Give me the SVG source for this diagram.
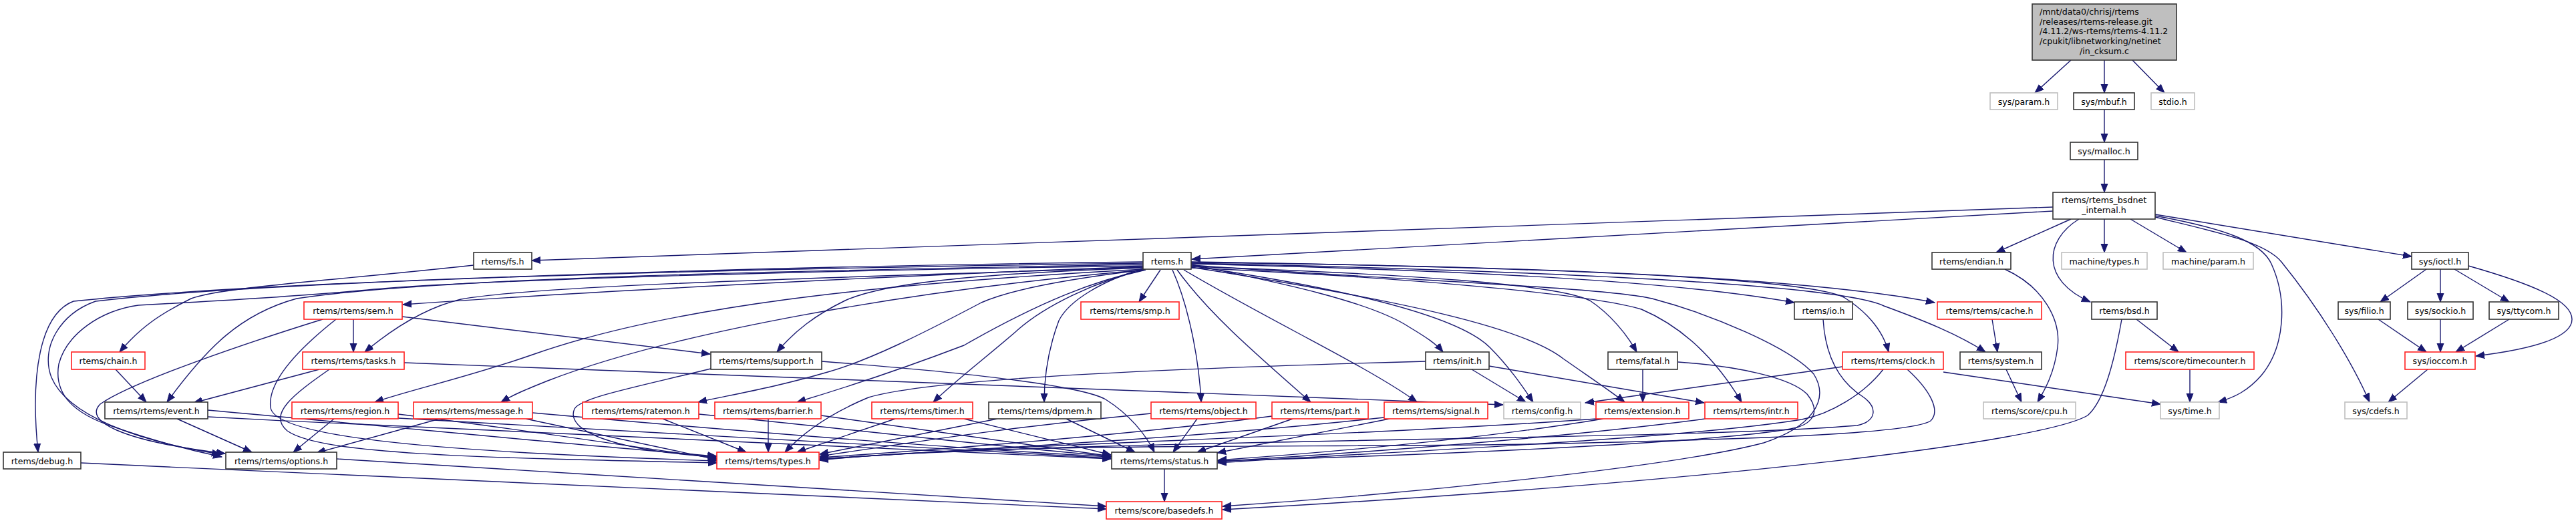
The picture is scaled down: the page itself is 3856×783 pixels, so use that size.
<svg xmlns="http://www.w3.org/2000/svg" width="3856" height="783" viewBox="0 0 3856 783">
<style>
rect{fill:#fff;stroke-width:1.6}
.k rect{stroke:#333}
.r rect{stroke:#ff2020}
.g rect{stroke:#bfbfbf}
.root rect{fill:#bfbfbf;stroke:#333}
text{font-family:"DejaVu Sans","Liberation Sans",sans-serif;font-size:12.6px;fill:#000;text-anchor:middle}
.lt{text-anchor:start}
#edges path{fill:none;stroke:#191970;stroke-width:1.4;marker-end:url(#a)}
</style>
<defs>
<marker id="a" markerUnits="userSpaceOnUse" markerWidth="14" markerHeight="12" refX="13" refY="5" orient="auto" viewBox="0 0 14 10">
<path d="M0,0 L13,5 L0,10 z" fill="#191970" stroke="#191970" stroke-width="1"/>
</marker>
</defs>
<rect x="0" y="0" width="3856" height="783" style="fill:#fff;stroke:none"/>
<g id="edges">
<path d="M3100,90 L3046,139"/>
<path d="M3150,90 L3150,139"/>
<path d="M3192,90 L3240,139"/>
<path d="M3150,164 L3150,213"/>
<path d="M3150,239 L3150,288"/>
<path d="M3073,310 L796,390"/>
<path d="M3073,316 L1784,388"/>
<path d="M3100,328 L2988,378"/>
<path d="M3112,328 C3060,360 3055,420 3129,452"/>
<path d="M3150,328 L3150,378"/>
<path d="M3189,328 L3273,378"/>
<path d="M3226,323 C3330,342 3385,362 3400,395 C3425,450 3420,520 3385,562 C3365,585 3345,595 3320,602"/>
<path d="M3226,325 C3320,348 3390,362 3415,392 C3470,460 3520,540 3547,602"/>
<path d="M3226,321 L3610,384"/>
<path d="M3632,403 L3563,452"/>
<path d="M3653,403 L3653,452"/>
<path d="M3674,403 L3756,452"/>
<path d="M3695,398 C3790,425 3850,450 3850,478 C3850,508 3780,524 3706,533"/>
<path d="M3560,478 L3632,527"/>
<path d="M3653,478 L3653,527"/>
<path d="M3756,478 L3676,527"/>
<path d="M3634,553 L3575,602"/>
<path d="M3198,478 L3261,527"/>
<path d="M3278,553 L3278,602"/>
<path d="M2909,557 L3234,605"/>
<path d="M3176,478 C3165,540 3150,600 3125,622 C3060,660 2600,720 1830,763"/>
<path d="M3001,403 C3060,430 3085,480 3080,520 C3075,560 3060,585 3050,602"/>
<path d="M2982,478 L2990,527"/>
<path d="M3003,553 L3026,602"/>
<path d="M1711,392 C1200,398 400,420 110,451 C60,470 45,560 57,677"/>
<path d="M1711,394 C1100,402 400,420 143,451 C90,470 60,520 77,565 C100,620 200,660 330,680"/>
<path d="M1711,398 C1200,405 700,420 560,433 C450,444 300,452 207,457 C150,465 100,500 88,545 C80,590 110,620 173,640 C230,660 280,673 332,684"/>
<path d="M1711,396 C1200,405 650,415 444,447 C360,470 310,520 250,602"/>
<path d="M1711,399 C1400,410 900,435 603,456"/>
<path d="M1711,400 C1300,415 820,425 690,448 C640,460 590,490 546,527"/>
<path d="M1711,401 C1450,410 1320,425 1265,450 C1220,472 1190,495 1163,527"/>
<path d="M1713,403 C1300,425 1000,460 800,530 C700,565 620,582 561,602"/>
<path d="M1714,404 C1350,435 1000,500 820,570 C790,582 770,590 750,602"/>
<path d="M1712,404 C1620,415 1520,430 1469,453 C1380,500 1300,540 1239,557 C1160,580 1100,590 1045,602"/>
<path d="M1713,404 C1640,420 1560,450 1443,517 C1330,560 1250,585 1193,602"/>
<path d="M1715,404 C1640,420 1560,460 1520,497 C1470,540 1430,570 1397,602"/>
<path d="M1712,402 C1650,420 1600,450 1585,480 C1570,520 1563,560 1563,602"/>
<path d="M1737,404 L1705,452"/>
<path d="M1755,404 C1780,460 1795,540 1798,602"/>
<path d="M1762,404 C1810,470 1880,530 1962,602"/>
<path d="M1772,404 C1900,480 2050,550 2121,602"/>
<path d="M1783,396 C1900,420 2050,450 2110,490 C2135,505 2150,515 2160,527"/>
<path d="M1783,398 C2000,430 2180,470 2230,520 C2260,550 2280,580 2295,602"/>
<path d="M1783,400 C2100,450 2280,490 2340,537 C2380,565 2410,585 2432,602"/>
<path d="M1783,401 C2100,415 2380,440 2457,463 C2520,490 2570,540 2607,602"/>
<path d="M1783,399 C2100,410 2330,425 2380,450 C2410,470 2435,500 2450,527"/>
<path d="M1783,395 C2200,405 2500,420 2686,453"/>
<path d="M1783,393 C2300,398 2700,415 2896,453"/>
<path d="M1783,392 C2300,400 2700,415 2760,445 C2800,470 2820,500 2827,527"/>
<path d="M1783,394 C2300,405 2750,425 2820,458 C2880,480 2930,500 2972,527"/>
<path d="M1783,397 C2100,420 2400,430 2473,447 C2560,470 2680,520 2715,560 C2740,600 2710,640 2640,663 C2500,700 2100,740 1830,758"/>
<path d="M709,397 C500,420 330,430 286,447 C240,470 210,490 179,527"/>
<path d="M173,553 L219,602"/>
<path d="M529,478 L529,527"/>
<path d="M602,474 L1063,530"/>
<path d="M483,478 C380,510 200,570 150,605 C125,630 180,660 337,679"/>
<path d="M503,478 C450,520 400,570 405,610 C410,650 600,675 1073,690"/>
<path d="M478,553 L290,603"/>
<path d="M605,543 L2250,606"/>
<path d="M493,553 C440,590 400,620 430,645 C480,680 700,685 1073,693"/>
<path d="M1064,552 C950,580 870,595 860,612 C845,645 920,675 1072,684"/>
<path d="M1230,541 C1450,558 1620,578 1655,598 C1690,620 1715,650 1728,677"/>
<path d="M2134,541 C1800,550 1400,565 1300,595 C1240,620 1200,650 1175,677"/>
<path d="M2203,553 L2284,602"/>
<path d="M2229,548 L2551,603"/>
<path d="M2459,553 L2459,602"/>
<path d="M2512,542 C2600,548 2680,565 2705,590 C2725,615 2715,632 2690,640 C2600,660 2200,680 1823,690"/>
<path d="M2729,478 C2732,530 2750,570 2790,595 C2810,610 2810,630 2780,637 C2500,660 1700,655 1227,687"/>
<path d="M2758,549 L2373,603"/>
<path d="M2819,553 C2790,590 2740,620 2697,628 C2500,660 2000,680 1823,693"/>
<path d="M2855,553 C2890,585 2905,615 2890,630 C2860,650 2600,658 2340,664 C2000,672 1500,660 1227,689"/>
<path d="M265,627 L377,677"/>
<path d="M311,614 C600,640 900,670 1073,683"/>
<path d="M311,624 C800,650 1300,672 1663,687"/>
<path d="M500,627 L439,677"/>
<path d="M596,620 C800,645 950,670 1073,686"/>
<path d="M596,626 C1000,650 1400,672 1663,686"/>
<path d="M658,627 L474,678"/>
<path d="M787,627 L1073,688"/>
<path d="M797,618 C1100,645 1400,670 1663,684"/>
<path d="M992,627 L1117,677"/>
<path d="M1046,620 C1300,645 1500,670 1663,683"/>
<path d="M1150,627 L1150,677"/>
<path d="M1229,622 L1663,683"/>
<path d="M1340,627 L1193,677"/>
<path d="M1443,627 L1663,681"/>
<path d="M1493,627 L1227,680"/>
<path d="M1596,627 L1699,677"/>
<path d="M1723,619 C1500,640 1350,665 1227,683"/>
<path d="M1792,627 L1756,677"/>
<path d="M1904,623 C1700,650 1450,670 1227,685"/>
<path d="M1935,627 L1792,677"/>
<path d="M2072,625 C1800,655 1500,670 1227,687"/>
<path d="M2080,627 L1822,678"/>
<path d="M2390,627 C2000,655 1600,660 1227,688"/>
<path d="M2400,627 C2200,660 1950,680 1823,689"/>
<path d="M2553,627 C2300,660 2000,680 1823,691"/>
<path d="M504,687 C900,710 1400,745 1656,758"/>
<path d="M121,693 C700,720 1300,745 1656,762"/>
<path d="M1743,702 L1743,751"/>
</g>
<g id="n_root" class="root"><rect x="3042" y="6" width="216" height="84"/>
<text class="lt" x="3053" y="22">/mnt/data0/chrisj/rtems</text>
<text class="lt" x="3053" y="36.7">/releases/rtems-release.git</text>
<text class="lt" x="3053" y="51.4">/4.11.2/ws-rtems/rtems-4.11.2</text>
<text class="lt" x="3053" y="66.1">/cpukit/libnetworking/netinet</text>
<text x="3150" y="80.8">/in_cksum.c</text></g>
<g id="n_sys_param" class="g"><rect x="2979" y="139" width="101" height="25"/><text x="3029.5" y="157">sys/param.h</text></g>
<g id="n_sys_mbuf" class="k"><rect x="3104" y="139" width="91" height="25"/><text x="3149.5" y="157">sys/mbuf.h</text></g>
<g id="n_stdio" class="g"><rect x="3220" y="139" width="65" height="25"/><text x="3252.5" y="157">stdio.h</text></g>
<g id="n_sys_malloc" class="k"><rect x="3099" y="213" width="101" height="26"/><text x="3149.5" y="231">sys/malloc.h</text></g>
<g id="n_bsdnet" class="k"><rect x="3073" y="288" width="153" height="40"/><text x="3149.5" y="304">rtems/rtems_bsdnet</text><text x="3149.5" y="319">_internal.h</text></g>
<g id="n_fs" class="k"><rect x="709" y="378" width="87" height="25"/><text x="752.5" y="396">rtems/fs.h</text></g>
<g id="n_rtems" class="k"><rect x="1711" y="378" width="72" height="25"/><text x="1747" y="396">rtems.h</text></g>
<g id="n_endian" class="k"><rect x="2892" y="378" width="118" height="25"/><text x="2951" y="396">rtems/endian.h</text></g>
<g id="n_mtypes" class="g"><rect x="3086" y="378" width="128" height="25"/><text x="3150" y="396">machine/types.h</text></g>
<g id="n_mparam" class="g"><rect x="3238" y="378" width="135" height="25"/><text x="3305.5" y="396">machine/param.h</text></g>
<g id="n_ioctl" class="k"><rect x="3610" y="378" width="85" height="25"/><text x="3652.5" y="396">sys/ioctl.h</text></g>
<g id="n_sem" class="r"><rect x="455" y="452" width="147" height="26"/><text x="528.5" y="470">rtems/rtems/sem.h</text></g>
<g id="n_smp" class="r"><rect x="1618" y="452" width="147" height="26"/><text x="1691.5" y="470">rtems/rtems/smp.h</text></g>
<g id="n_io" class="k"><rect x="2686" y="452" width="87" height="26"/><text x="2729.5" y="470">rtems/io.h</text></g>
<g id="n_cache" class="r"><rect x="2900" y="452" width="156" height="26"/><text x="2978" y="470">rtems/rtems/cache.h</text></g>
<g id="n_bsd" class="k"><rect x="3131" y="452" width="98" height="26"/><text x="3180" y="470">rtems/bsd.h</text></g>
<g id="n_filio" class="k"><rect x="3500" y="452" width="78" height="26"/><text x="3539" y="470">sys/filio.h</text></g>
<g id="n_sockio" class="k"><rect x="3604" y="452" width="98" height="26"/><text x="3653" y="470">sys/sockio.h</text></g>
<g id="n_ttycom" class="k"><rect x="3726" y="452" width="104" height="26"/><text x="3778" y="470">sys/ttycom.h</text></g>
<g id="n_chain" class="r"><rect x="107" y="527" width="110" height="26"/><text x="162" y="545">rtems/chain.h</text></g>
<g id="n_tasks" class="r"><rect x="453" y="527" width="152" height="26"/><text x="529" y="545">rtems/rtems/tasks.h</text></g>
<g id="n_support" class="k"><rect x="1064" y="527" width="166" height="26"/><text x="1147" y="545">rtems/rtems/support.h</text></g>
<g id="n_init" class="k"><rect x="2134" y="527" width="95" height="26"/><text x="2181.5" y="545">rtems/init.h</text></g>
<g id="n_fatal" class="k"><rect x="2407" y="527" width="104" height="26"/><text x="2459" y="545">rtems/fatal.h</text></g>
<g id="n_clock" class="r"><rect x="2758" y="527" width="151" height="26"/><text x="2833.5" y="545">rtems/rtems/clock.h</text></g>
<g id="n_system" class="k"><rect x="2934" y="527" width="122" height="26"/><text x="2995" y="545">rtems/system.h</text></g>
<g id="n_timecounter" class="r"><rect x="3182" y="527" width="192" height="26"/><text x="3278" y="545">rtems/score/timecounter.h</text></g>
<g id="n_ioccom" class="r"><rect x="3600" y="527" width="105" height="26"/><text x="3652.5" y="545">sys/ioccom.h</text></g>
<g id="n_event" class="k"><rect x="157" y="602" width="154" height="25"/><text x="234" y="620">rtems/rtems/event.h</text></g>
<g id="n_region" class="r"><rect x="437" y="602" width="159" height="25"/><text x="516.5" y="620">rtems/rtems/region.h</text></g>
<g id="n_message" class="r"><rect x="619" y="602" width="178" height="25"/><text x="708" y="620">rtems/rtems/message.h</text></g>
<g id="n_ratemon" class="r"><rect x="872" y="602" width="174" height="25"/><text x="959" y="620">rtems/rtems/ratemon.h</text></g>
<g id="n_barrier" class="r"><rect x="1070" y="602" width="159" height="25"/><text x="1149.5" y="620">rtems/rtems/barrier.h</text></g>
<g id="n_timer" class="r"><rect x="1305" y="602" width="151" height="25"/><text x="1380.5" y="620">rtems/rtems/timer.h</text></g>
<g id="n_dpmem" class="k"><rect x="1480" y="602" width="168" height="25"/><text x="1564" y="620">rtems/rtems/dpmem.h</text></g>
<g id="n_object" class="r"><rect x="1723" y="602" width="157" height="25"/><text x="1801.5" y="620">rtems/rtems/object.h</text></g>
<g id="n_part" class="r"><rect x="1904" y="602" width="144" height="25"/><text x="1976" y="620">rtems/rtems/part.h</text></g>
<g id="n_signal" class="r"><rect x="2072" y="602" width="155" height="25"/><text x="2149.5" y="620">rtems/rtems/signal.h</text></g>
<g id="n_config" class="g"><rect x="2251" y="602" width="115" height="25"/><text x="2308.5" y="620">rtems/config.h</text></g>
<g id="n_extension" class="r"><rect x="2389" y="602" width="139" height="25"/><text x="2458.5" y="620">rtems/extension.h</text></g>
<g id="n_intr" class="r"><rect x="2552" y="602" width="139" height="25"/><text x="2621.5" y="620">rtems/rtems/intr.h</text></g>
<g id="n_cpu" class="g"><rect x="2969" y="602" width="138" height="25"/><text x="3038" y="620">rtems/score/cpu.h</text></g>
<g id="n_systime" class="g"><rect x="3234" y="602" width="88" height="25"/><text x="3278" y="620">sys/time.h</text></g>
<g id="n_cdefs" class="g"><rect x="3510" y="602" width="93" height="25"/><text x="3556.5" y="620">sys/cdefs.h</text></g>
<g id="n_debug" class="k"><rect x="5" y="677" width="116" height="25"/><text x="63" y="695">rtems/debug.h</text></g>
<g id="n_options" class="k"><rect x="338" y="677" width="166" height="25"/><text x="421" y="695">rtems/rtems/options.h</text></g>
<g id="n_types" class="r"><rect x="1073" y="677" width="153" height="25"/><text x="1149.5" y="695">rtems/rtems/types.h</text></g>
<g id="n_status" class="k"><rect x="1664" y="677" width="158" height="25"/><text x="1743" y="695">rtems/rtems/status.h</text></g>
<g id="n_basedefs" class="r"><rect x="1656" y="751" width="173" height="26"/><text x="1742.5" y="769">rtems/score/basedefs.h</text></g>
</svg>
